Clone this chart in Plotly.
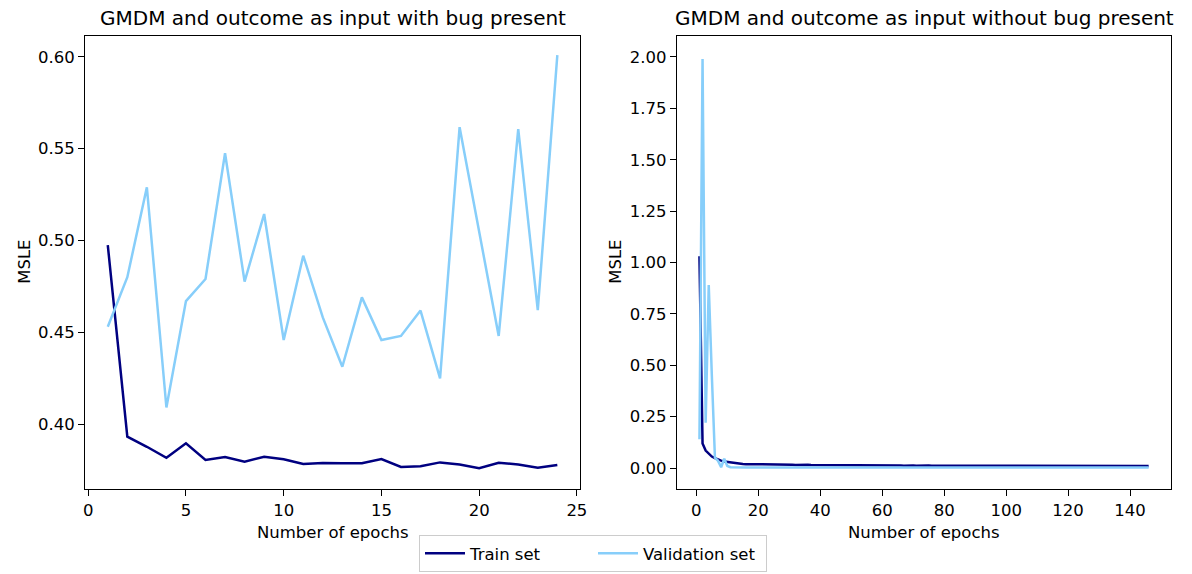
import plotly.graph_objects as go

# ---------------- data ----------------
epochs_a = list(range(1, 25))
train_a = [0.4975, 0.3931, 0.3876, 0.3816, 0.3895, 0.3804, 0.3820, 0.3795,
           0.3822, 0.3808, 0.3782, 0.3787, 0.3786, 0.3786, 0.3809, 0.3766,
           0.3770, 0.3791, 0.3779, 0.3759, 0.3789, 0.3780, 0.3762, 0.3777]
val_a = [0.453, 0.480, 0.529, 0.409, 0.467, 0.479, 0.5475, 0.4776,
         0.5144, 0.4458, 0.4917, 0.4581, 0.4312, 0.469, 0.4458, 0.448,
         0.4618, 0.4249, 0.5617, 0.5057, 0.448, 0.5606, 0.4621, 0.601]

epochs_b = list(range(1, 147))
train_b = [1.03, 0.12, 0.085, 0.068, 0.056, 0.048, 0.041, 0.036, 0.032, 0.030,
           0.027, 0.024, 0.021, 0.020, 0.020, 0.019, 0.019, 0.019, 0.019, 0.018,
           0.018, 0.018, 0.017, 0.017, 0.017, 0.016, 0.017, 0.016, 0.016, 0.016,
           0.016, 0.015, 0.016, 0.015, 0.015, 0.016, 0.015, 0.015, 0.015, 0.014,
           0.015, 0.014, 0.014, 0.012, 0.013, 0.014, 0.013, 0.013, 0.014, 0.013,
           0.013, 0.013, 0.012, 0.013, 0.013, 0.012, 0.013, 0.012, 0.012, 0.013,
           0.012, 0.012, 0.013, 0.012, 0.012, 0.012, 0.011, 0.012, 0.012, 0.012,
           0.011, 0.012, 0.012, 0.011, 0.012, 0.011, 0.012, 0.013, 0.011, 0.011,
           0.011, 0.012, 0.011, 0.011, 0.011, 0.011, 0.012, 0.011, 0.011, 0.011,
           0.011, 0.011, 0.011, 0.010, 0.011, 0.011, 0.011, 0.011, 0.010, 0.011,
           0.011, 0.011, 0.010, 0.011, 0.011, 0.010, 0.011, 0.010, 0.010, 0.011,
           0.010, 0.011, 0.010, 0.010, 0.010, 0.011, 0.010, 0.010, 0.010, 0.010,
           0.010, 0.010, 0.010, 0.010, 0.011, 0.010, 0.010, 0.010, 0.010, 0.010,
           0.010, 0.010, 0.010, 0.010, 0.010, 0.010, 0.010, 0.010, 0.010, 0.010,
           0.010, 0.010, 0.010, 0.010, 0.010, 0.010]
val_b = [0.14, 1.99, 0.22, 0.89, 0.45, 0.05, 0.035, 0.004, 0.045, 0.010,
         0.004, 0.003, 0.003, 0.002, 0.003, 0.002, 0.002, 0.003, 0.002, 0.002,
         0.002, 0.003, 0.002, 0.002, 0.003, 0.002, 0.002, 0.002, 0.003, 0.002,
         0.002, 0.002, 0.002, 0.003, 0.002, 0.002, 0.002, 0.002, 0.002, 0.003,
         0.002, 0.002, 0.002, 0.002, 0.002, 0.002, 0.003, 0.002, 0.002, 0.002,
         0.002, 0.002, 0.002, 0.002, 0.002, 0.003, 0.002, 0.002, 0.002, 0.002,
         0.002, 0.002, 0.002, 0.002, 0.002, 0.002, 0.002, 0.003, 0.002, 0.002,
         0.002, 0.002, 0.002, 0.002, 0.002, 0.002, 0.002, 0.002, 0.002, 0.002,
         0.002, 0.002, 0.003, 0.002, 0.002, 0.002, 0.002, 0.002, 0.002, 0.002,
         0.002, 0.002, 0.002, 0.002, 0.002, 0.002, 0.002, 0.002, 0.003, 0.002,
         0.002, 0.002, 0.002, 0.002, 0.002, 0.002, 0.002, 0.002, 0.002, 0.002,
         0.002, 0.002, 0.002, 0.002, 0.002, 0.002, 0.002, 0.002, 0.002, 0.002,
         0.002, 0.003, 0.002, 0.002, 0.002, 0.002, 0.002, 0.002, 0.002, 0.002,
         0.002, 0.002, 0.002, 0.002, 0.002, 0.002, 0.002, 0.002, 0.002, 0.002,
         0.002, 0.002, 0.002, 0.002, 0.002, 0.002]

titles = ["GMDM and outcome as input with bug present",
          "GMDM and outcome as input without bug present"]
x_label = "Number of epochs"
y_label = "MSLE"
names = ["Train set", "Validation set"]
colors = ["#000080", "#87CEFA"]

W, H = 1192, 574
FONT = "DejaVu Sans"

fig = go.Figure()
fig.add_trace(go.Scatter(x=epochs_a, y=train_a, mode="lines", name=names[0],
                         line=dict(color=colors[0], width=2.5), xaxis="x", yaxis="y"))
fig.add_trace(go.Scatter(x=epochs_a, y=val_a, mode="lines", name=names[1],
                         line=dict(color=colors[1], width=2.5), xaxis="x", yaxis="y"))
fig.add_trace(go.Scatter(x=epochs_b, y=train_b, mode="lines", name=names[0], showlegend=False,
                         line=dict(color=colors[0], width=2.5), xaxis="x2", yaxis="y2"))
fig.add_trace(go.Scatter(x=epochs_b, y=val_b, mode="lines", name=names[1], showlegend=False,
                         line=dict(color=colors[1], width=2.5), xaxis="x2", yaxis="y2"))

# plot areas in pixels
L1, R1 = 84, 582.7
L2, R2 = 680.7, 1179
T, B = 36, 489
ydom = [1 - B / H, 1 - T / H]

axis_common = dict(showline=True, mirror=True, linecolor="black", linewidth=1.3,
                   ticks="outside", ticklen=6, tickwidth=1.3, tickcolor="black",
                   showgrid=False, zeroline=False,
                   tickfont=dict(family=FONT, size=16.5, color="black"))

fig.update_layout(
    width=W, height=H,
    margin=dict(l=0, r=0, t=0, b=0),
    paper_bgcolor="white", plot_bgcolor="white",
    font=dict(family=FONT, size=16.5, color="black"),
    xaxis=dict(domain=[L1 / W, R1 / W], range=[-0.15, 25.15],
               tickvals=[0, 5, 10, 15, 20, 25], anchor="y", **axis_common),
    yaxis=dict(domain=ydom, range=[0.3646, 0.6114],
               tickvals=[0.40, 0.45, 0.50, 0.55, 0.60], tickformat=".2f",
               anchor="x", **axis_common),
    xaxis2=dict(domain=[L2 / W, R2 / W], range=[-6.25, 153.25],
                tickvals=[0, 20, 40, 60, 80, 100, 120, 140], anchor="y2", **axis_common),
    yaxis2=dict(domain=ydom, range=[-0.102, 2.102],
                tickvals=[0, 0.25, 0.5, 0.75, 1.0, 1.25, 1.5, 1.75, 2.0], tickformat=".2f",
                anchor="x2", **axis_common),
    legend=dict(orientation="h", x=0.5, xanchor="center", y=2 / H, yanchor="bottom",
                bordercolor="#cccccc", borderwidth=1, bgcolor="white",
                font=dict(family=FONT, size=16.5), itemwidth=40,
                entrywidth=118, entrywidthmode="pixels"),
    showlegend=True,
)

annotations = []
for (l, r), t in zip([(L1, R1), (L2, R2)], titles):
    cx = (l + r) / 2 / W
    annotations.append(dict(text=t, x=cx, y=1 - 18 / H, xref="paper", yref="paper",
                            xanchor="center", yanchor="middle", showarrow=False,
                            font=dict(family=FONT, size=20, color="black")))
    annotations.append(dict(text=x_label, x=cx, y=1 - 532 / H, xref="paper", yref="paper",
                            xanchor="center", yanchor="middle", showarrow=False,
                            font=dict(family=FONT, size=16.5, color="black")))
for px in [22, 618]:
    annotations.append(dict(text=y_label, x=px / W, y=1 - 262 / H, xref="paper", yref="paper",
                            xanchor="center", yanchor="middle", showarrow=False, textangle=-90,
                            font=dict(family=FONT, size=16.5, color="black")))
fig.update_layout(annotations=annotations)

fig.write_html("out.html")
